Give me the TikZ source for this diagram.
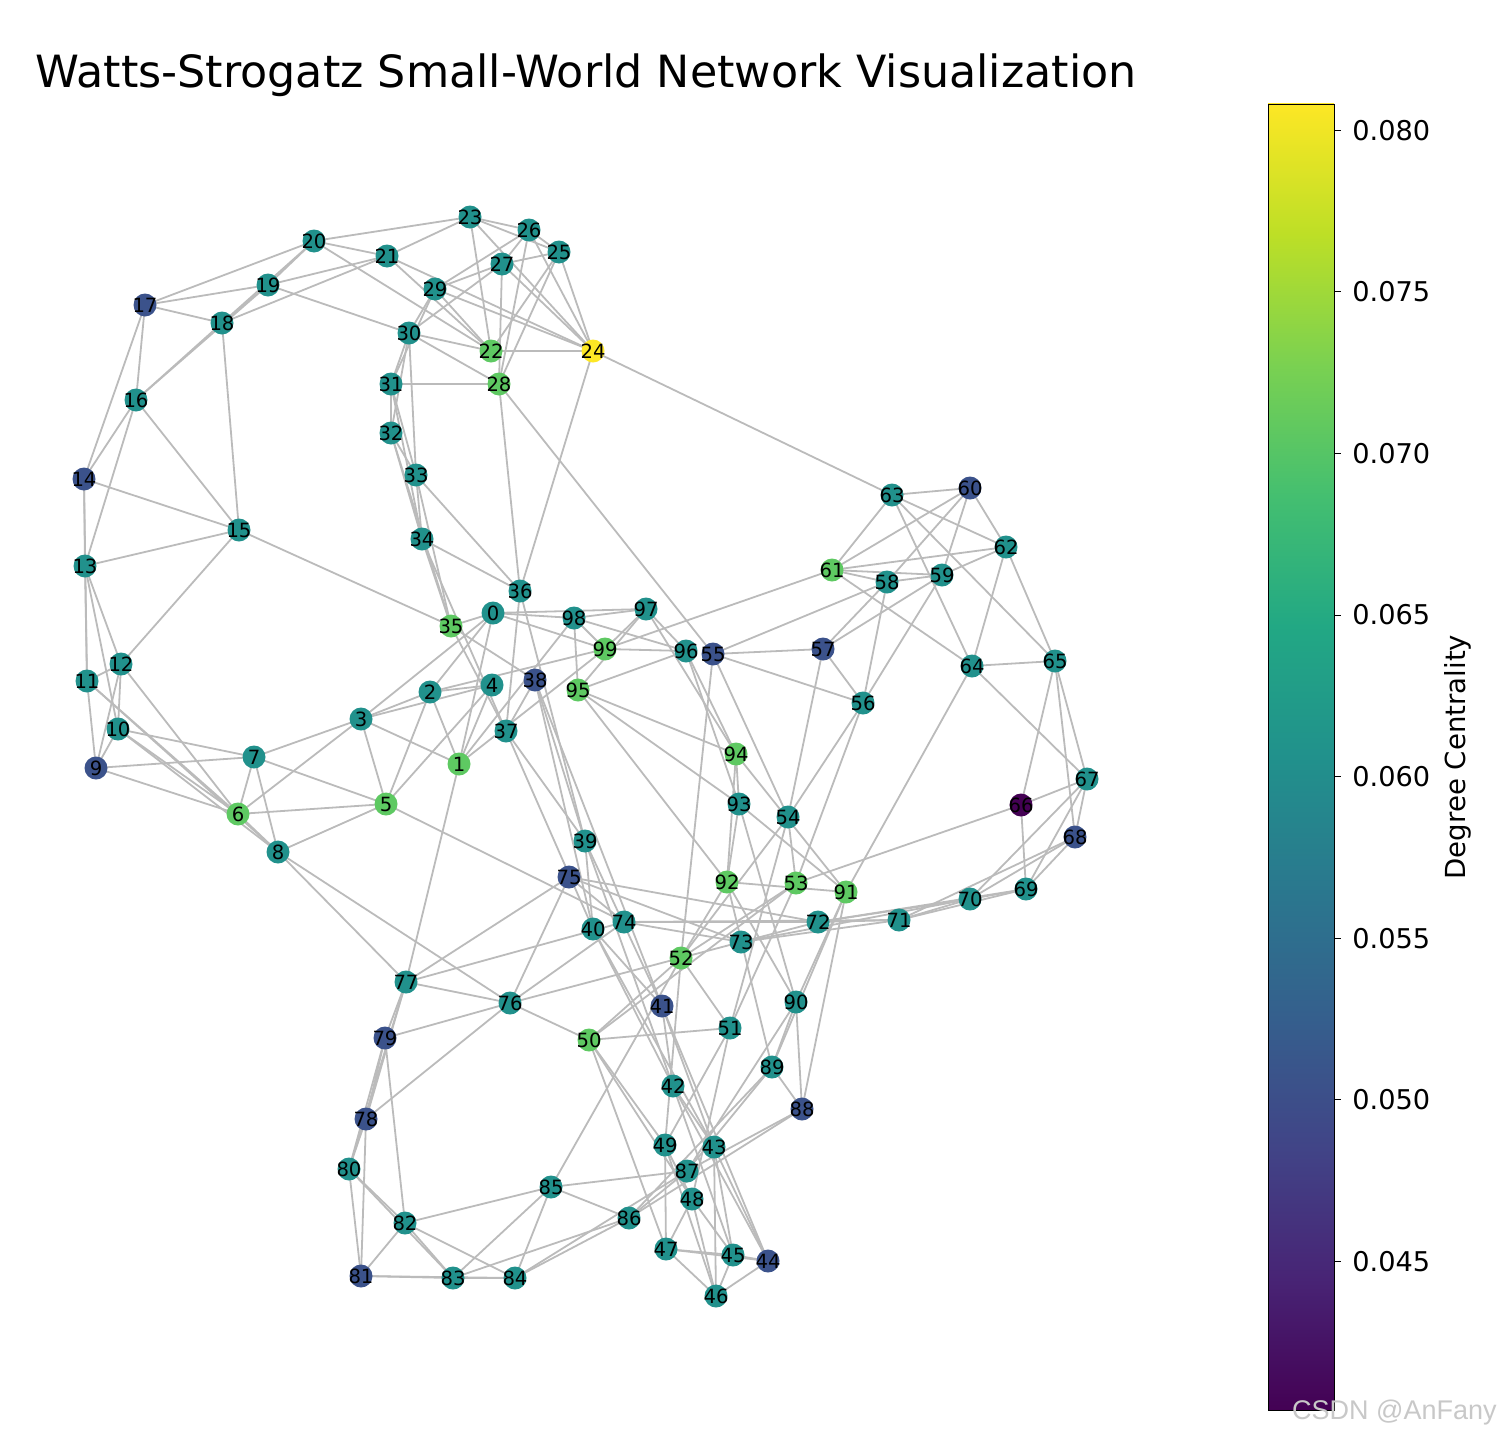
\documentclass[tikz,border=0pt]{standalone}
\usepackage{fontspec}
\setmainfont{DejaVu Sans}
\newfontfamily\wmfont{Liberation Sans}
\usetikzlibrary{backgrounds}
\definecolor{vA}{HTML}{440154}
\definecolor{vB}{HTML}{3B528B}
\definecolor{vC}{HTML}{21918C}
\definecolor{vD}{HTML}{5EC962}
\definecolor{vE}{HTML}{FDE725}
\definecolor{w0}{HTML}{440154}
\definecolor{w1}{HTML}{482475}
\definecolor{w2}{HTML}{414487}
\definecolor{w3}{HTML}{355F8D}
\definecolor{w4}{HTML}{2A788E}
\definecolor{w5}{HTML}{21918C}
\definecolor{w6}{HTML}{22A884}
\definecolor{w7}{HTML}{44BF70}
\definecolor{w8}{HTML}{7AD151}
\definecolor{w9}{HTML}{BDDF26}
\definecolor{w10}{HTML}{FDE725}
\definecolor{edgegray}{HTML}{BBBBBB}
\definecolor{wmgray}{HTML}{C8C8C8}
\begin{document}
\begin{tikzpicture}[x=0.5pt,y=-0.5pt,
  nd/.style={circle,inner sep=0pt,minimum size=11.5pt,font=\fontsize{9.8}{10}\selectfont,text=black},
  ed/.style={draw=edgegray,line width=0.9pt},
  tick/.style={draw=black,line width=0.5pt},
  ticklab/.style={anchor=west,font=\fontsize{13.6}{14}\selectfont,inner sep=0pt}]
\useasboundingbox (0,0) rectangle (1500,1440);
\node[anchor=west,font=\fontsize{22.2}{23}\selectfont,inner sep=0pt] (title) at (35,75) {Watts-Strogatz Small-World Network Visualization};
% nodes
\foreach \n/\x/\y/\c in {
0/493/613/vC,1/459/764/vD,2/430/692/vC,3/361/719/vC,4/492/685/vC,5/386/804/vD,6/238/814/vD,7/254/757/vC,8/278/852/vC,9/96/768/vB,
10/118/729/vC,11/87/681/vC,12/121/664/vC,13/85/566/vC,14/84/479/vB,15/239/530/vC,16/136/400/vC,17/145/305/vB,18/222/323/vC,19/268/285/vC,
20/314/241/vC,21/387/256/vC,22/491/351/vD,23/470/217/vC,24/593/351/vE,25/559/252/vC,26/529/230/vC,27/502/264/vC,28/499/384/vD,29/435/289/vC,
30/409/333/vC,31/391/384/vC,32/391/433/vC,33/416/475/vC,34/422/539/vC,35/451/626/vD,36/520/591/vC,37/506/731/vC,38/535/680/vB,39/585/841/vC,
40/593/929/vC,41/662/1006/vB,42/673/1086/vC,43/714/1147/vC,44/768/1261/vB,45/733/1255/vC,46/716/1296/vC,47/666/1249/vC,48/692/1199/vC,49/665/1145/vC,
50/589/1040/vD,51/730/1028/vC,52/681/958/vD,53/796/883/vD,54/788/817/vC,55/713/654/vB,56/863/703/vC,57/823/649/vB,58/887/582/vC,59/942/575/vC,
60/970/488/vB,61/832/570/vD,62/1006/547/vC,63/892/495/vC,64/972/666/vC,65/1055/661/vC,66/1021/805/vA,67/1087/779/vC,68/1075/837/vB,69/1026/889/vC,
70/970/899/vC,71/899/920/vC,72/818/922/vC,73/741/942/vC,74/624/922/vC,75/569/877/vB,76/510/1003/vC,77/406/982/vC,78/366/1119/vB,79/385/1038/vB,
80/349/1169/vC,81/361/1276/vB,82/405/1223/vC,83/453/1278/vC,84/515/1278/vC,85/551/1187/vC,86/629/1218/vC,87/687/1171/vC,88/802/1109/vB,89/772/1067/vC,
90/796/1002/vC,91/846/892/vD,92/727/882/vD,93/739/804/vC,94/736/754/vD,95/578/690/vD,96/686/651/vC,97/646/609/vC,98/574/618/vC,99/605/649/vD}
  \node[nd,fill=\c] (n\n) at (\x,\y) {\makebox[0pt]{\n}};
% edges
\begin{scope}[on background layer]
\foreach \a/\b in {
0/1,0/2,0/3,0/35,1/2,1/3,1/4,1/77,2/3,2/4,2/5,3/4,3/5,3/6,3/7,4/5,
5/6,5/7,5/8,5/74,6/7,6/8,6/9,6/10,6/11,6/12,7/8,7/9,7/10,8/10,8/11,8/77,8/76,
9/10,9/11,9/12,10/12,10/13,11/12,11/13,11/14,12/13,12/15,13/14,13/15,13/16,
14/15,14/16,14/17,15/16,15/18,15/35,16/17,16/18,16/19,17/18,17/19,17/20,
18/19,18/20,18/21,19/20,19/21,19/30,20/21,20/22,20/23,21/22,21/23,21/24,
22/23,22/24,22/25,22/29,22/30,23/24,23/25,23/26,24/25,24/26,24/27,24/29,24/36,24/63,
25/26,25/27,25/28,26/27,26/28,26/29,27/28,27/29,27/30,28/30,28/31,28/36,28/55,
29/30,29/31,30/31,30/32,30/33,31/32,31/33,31/34,32/33,32/34,32/35,
33/34,33/35,33/36,34/35,34/36,34/37,35/37,35/38,36/37,36/39,
37/38,37/39,37/40,38/39,38/40,38/41,39/40,39/41,39/42,40/41,40/42,40/43,
41/42,41/43,41/44,42/43,42/44,42/45,43/44,43/45,43/46,44/45,44/46,44/47,
45/46,45/47,45/48,46/47,46/48,46/49,47/48,47/49,47/50,48/49,48/50,48/51,
49/50,49/51,49/52,50/51,50/52,50/53,50/76,51/52,51/53,51/54,
52/53,52/54,52/55,52/92,52/85,53/54,53/56,53/66,54/55,54/56,54/57,
55/56,55/57,55/58,56/57,56/58,56/59,57/58,57/59,58/59,58/60,58/61,
59/60,59/61,59/62,60/61,60/62,60/63,61/62,61/63,61/64,61/99,
62/63,62/64,62/65,63/64,63/65,64/65,64/67,64/91,65/66,65/67,65/68,66/67,66/69,
67/68,67/69,67/70,68/69,68/70,68/71,69/70,69/71,69/72,70/71,70/72,70/73,
71/72,71/73,71/74,72/73,72/74,72/75,73/74,73/75,73/76,74/75,74/76,74/77,
75/76,75/77,76/77,76/78,76/79,77/78,77/79,77/80,78/79,78/80,78/81,79/80,79/82,
80/81,80/82,80/83,81/82,81/83,81/84,82/83,82/84,82/85,83/84,83/85,83/86,
84/85,84/86,84/87,85/86,85/87,86/87,86/88,86/89,87/88,87/89,87/90,
88/89,88/90,88/91,89/90,89/91,89/92,90/91,90/92,90/93,91/92,91/93,91/94,
92/93,92/94,92/95,93/94,93/95,93/96,94/95,94/96,94/97,95/96,95/97,95/98,
96/97,96/98,96/99,97/98,97/99,97/0,98/99,98/0,98/1,99/0,99/1,99/2}
  \draw[ed] (n\a.center) -- (n\b.center);
\end{scope}
% colorbar
\foreach \k [evaluate=\k as \kk using int(\k+1)] in {0,...,9}
  \shade[bottom color=w\k,top color=w\kk] (1268,{1410-(\k+1)*130.6-0.5}) rectangle (1334,{1410-\k*130.6});
\node[draw=black,line width=0.6pt,inner sep=0pt,minimum width=33pt,minimum height=653pt,anchor=north west] (cbar) at (1268,104) {};
\foreach \v/\y in {0.045/1261.4,0.050/1099.8,0.055/938.2,0.060/776.6,0.065/615.0,0.070/453.4,0.075/291.7,0.080/130.1}{
  \draw[tick] (1334,\y) -- (1341,\y);
  \node[ticklab] at (1352,\y) {\v};
}
\node[rotate=90,font=\fontsize{13.8}{14}\selectfont,inner sep=0pt] (cblab) at (1458,757) {Degree Centrality};
\node[anchor=east,font=\wmfont\fontsize{13.5}{14}\selectfont,text=wmgray,inner sep=0pt] (wm) at (1497,1413) {CSDN @AnFany};
\end{tikzpicture}
\end{document}
